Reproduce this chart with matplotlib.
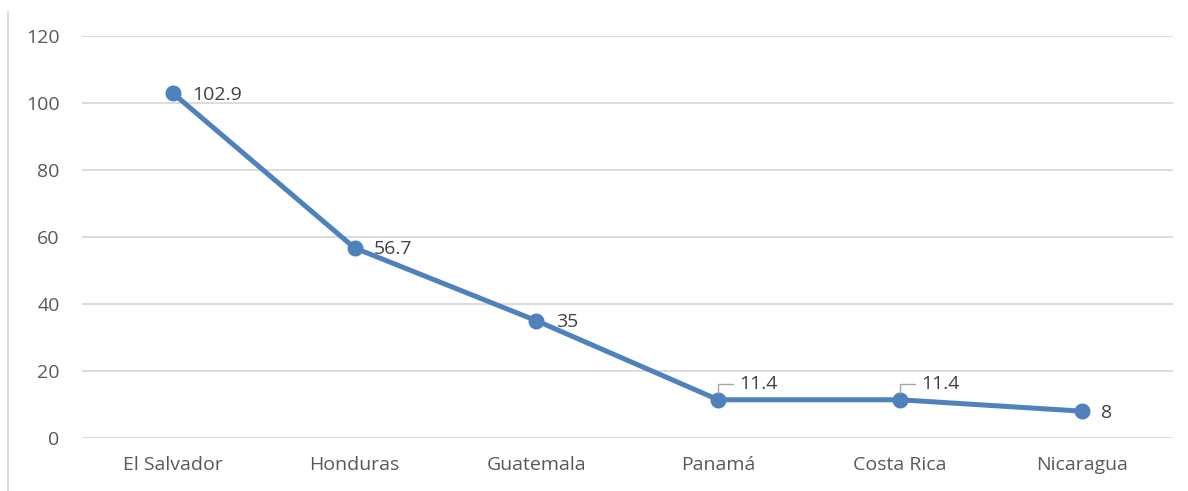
import matplotlib.pyplot as plt
from matplotlib.lines import Line2D

# data
countries = ["El Salvador", "Honduras", "Guatemala", "Panamá", "Costa Rica", "Nicaragua"]
values = [102.9, 56.7, 35, 11.4, 11.4, 8]
labels = ["102.9", "56.7", "35", "11.4", "11.4", "8"]
leader = [False, False, False, True, True, False]
yticks = [0, 20, 40, 60, 80, 100, 120]

LINE = "#4F81BD"
GRID = "#D9D9D9"
TXT = "#595959"
plt.rcParams['font.family'] = ['Open Sans', 'DejaVu Sans']

fig = plt.figure(figsize=(11.88, 4.91), dpi=100)
ax = fig.add_axes([0.069, 0.108, 0.918, 0.819])

x = list(range(len(countries)))
ax.plot(x, values, color=LINE, lw=3.6, marker='o', ms=10.5, solid_capstyle='round', zorder=3)

for i, (v, lab) in enumerate(zip(values, labels)):
    if leader[i]:
        ax.annotate(lab, xy=(i, v), xytext=(15, 11.5), textcoords='offset points',
                    ha='left', va='center', fontsize=14, color='#404040',
                    arrowprops=dict(arrowstyle='-', color='#A6A6A6', lw=1,
                                    connectionstyle='angle,angleA=0,angleB=90,rad=0',
                                    shrinkA=2, shrinkB=5))
    else:
        ax.annotate(lab, xy=(i, v), xytext=(14, -1), textcoords='offset points',
                    ha='left', va='center', fontsize=14, color='#404040')

ax.set_xlim(-0.5, len(countries) - 0.5)
ax.set_ylim(0, 120)
ax.set_yticks(yticks)
ax.set_xticks(x)
ax.set_xticklabels(countries)
ax.tick_params(axis='both', length=0, labelsize=14, labelcolor=TXT)
ax.tick_params(axis='y', pad=16)
ax.tick_params(axis='x', pad=13)
ax.grid(axis='y', color=GRID, lw=1.3)
ax.set_axisbelow(True)
for s in ax.spines.values():
    s.set_visible(False)

# chart border on the left
fig.add_artist(Line2D([0.0067, 0.0067], [0.0, 0.976], color=GRID, lw=1.3))

fig.savefig("out.png", dpi=100)
